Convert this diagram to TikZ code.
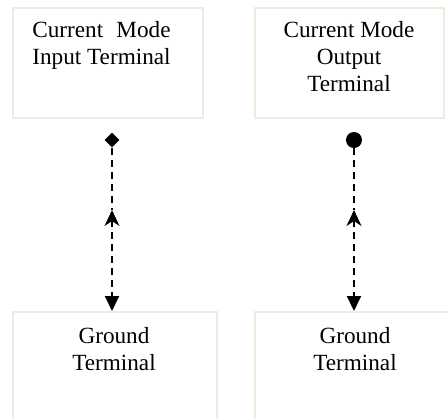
\documentclass[tikz,border=0pt]{standalone}
\usepackage{fontspec}
\setmainfont{Liberation Serif}
\usepackage{calc}
\usetikzlibrary{positioning,arrows.meta,shapes.geometric}

\definecolor{boxline}{RGB}{236,236,222}

\begin{document}
\begin{tikzpicture}[
            x=0.5pt, y=-0.5pt,
            termbox/.style={draw=boxline, line width=1pt, anchor=north west, inner sep=0pt, minimum height=55pt},
            boxtext/.style={align=center, inner sep=0pt, anchor=north, font=\fontsize{11.6}{13.5}\selectfont},
            pin/.style={fill=black, inner sep=0pt},
            link/.style={line width=1pt, dash pattern=on 3.5pt off 2.5pt},
            twoway/.style={{Stealth[length=8pt,width=7.5pt,inset=2.5pt]}-{Triangle[length=7.5pt,width=7pt]}},
        ]
            \useasboundingbox (0,0) rectangle (447,419);

            \node[termbox, minimum width=95pt] (inbox) at (12,7) {};
            \node[termbox, minimum width=94.5pt] (outbox) at (254,7) {};
            \node[boxtext, anchor=north west, align=left] (intext) at (32,21)
                {\makebox[\widthof{Input Terminal}][s]{Current Mode}\\Input Terminal};
            \node[boxtext] (outtext) at (349,21) {Current Mode\\Output\\Terminal};

            \node[termbox, minimum width=102pt] (gndL) at (12,311) {};
            \node[termbox, minimum width=102pt] (gndR) at (254,311) {};
            \node[boxtext] (gndLtext) at (114,327) {Ground\\Terminal};
            \node[boxtext] (gndRtext) at (355,327) {Ground\\Terminal};

            \node[pin, diamond, minimum size=7.5pt] (inpin) at (112,140) {};
            \node[pin, circle, minimum size=8pt] (outpin) at (354,140) {};

            \coordinate (inmid) at (112,210);
            \coordinate (outmid) at (354,210);

            \draw[link] (inpin) -- (inmid);
            \draw[link, twoway] (inmid) -- (inmid |- gndL.north);
            \draw[link] (outpin) -- (outmid);
            \draw[link, twoway] (outmid) -- (outmid |- gndR.north);

        \end{tikzpicture}
\end{document}
